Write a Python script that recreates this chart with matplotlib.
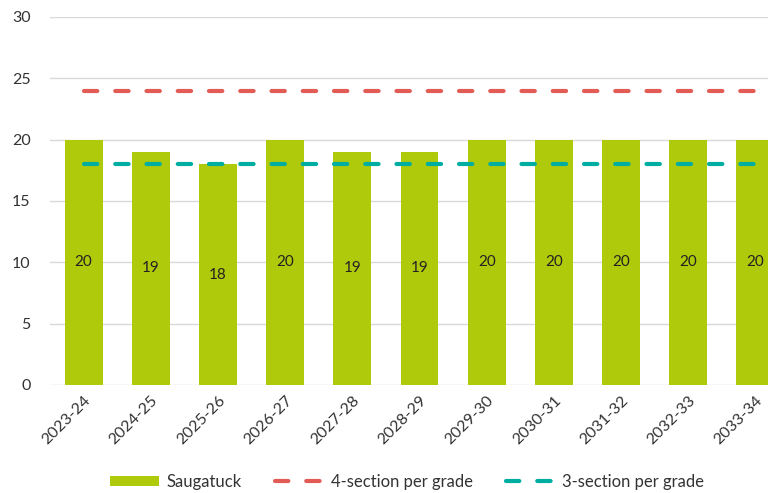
import matplotlib.pyplot as plt

# Data
years = ['2023-24', '2024-25', '2025-26', '2026-27', '2027-28', '2028-29',
         '2029-30', '2030-31', '2031-32', '2032-33', '2033-34']
saugatuck = [20, 19, 18, 20, 19, 19, 20, 20, 20, 20, 20]
four_section = [24] * len(years)
three_section = [18] * len(years)

plt.rcParams['font.family'] = ['Lato', 'DejaVu Sans']

fig = plt.figure(figsize=(7.68, 4.93), dpi=100)
# plot area runs past the right edge, like the original
ax = fig.add_axes([50 / 768, 1 - 385 / 493, 739 / 768, 368 / 493])

x = range(len(years))
bars = ax.bar(x, saugatuck, width=0.565, color='#AFCA0B', label='Saugatuck', zorder=2)
l4, = ax.plot(x, four_section, color='#E35B55', lw=3, dashes=(3.2, 4.3),
              dash_capstyle='round', label='4-section per grade', zorder=3)
l3, = ax.plot(x, three_section, color='#00ADA1', lw=3, dashes=(3.2, 4.3),
              dash_capstyle='round', label='3-section per grade', zorder=3)

# value labels in the middle of each bar
for xi, v in zip(x, saugatuck):
    ax.text(xi, v / 2, str(v), ha='center', va='center', fontsize=11, color='#222222', zorder=4)

ax.set_xlim(-0.5, len(years) - 0.5)
ax.set_ylim(0, 30)
ax.set_yticks(range(0, 31, 5))
ax.set_xticks(list(x))
ax.set_xticklabels(years, rotation=45, ha='right', rotation_mode='anchor')
ax.tick_params(axis='both', length=0, labelsize=11.5, colors='#333333')
ax.tick_params(axis='x', pad=6)
ax.tick_params(axis='y', pad=14)
ax.grid(axis='y', color='#D9D9D9', lw=1, zorder=0)
for s in ax.spines.values():
    s.set_visible(False)

fig.legend(handles=[bars, l4, l3], loc='center', bbox_to_anchor=(0.53, 1 - 482 / 493),
           ncol=3, frameon=False, fontsize=12, handlelength=2.9, handleheight=0.6,
           columnspacing=2.0, handletextpad=0.45, labelcolor='#333333')

plt.savefig('out.png', dpi=100)
